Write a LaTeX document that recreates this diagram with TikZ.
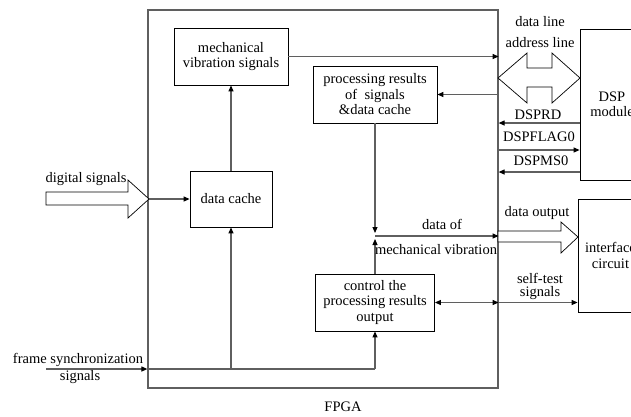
\documentclass[tikz,border=0pt]{standalone}
\usepackage{fontspec}
\setmainfont{Liberation Serif}
\usetikzlibrary{arrows.meta,calc}
\definecolor{lc}{RGB}{95,95,95}
\begin{document}
\begin{tikzpicture}[x=1pt,y=-1pt,
  font=\fontsize{14.5}{15.5}\selectfont,
  box/.style={draw=black,line width=0.8pt,fill=white,align=center,inner sep=0pt},
  ln/.style={draw=lc,line width=1.1pt},
  tip/.tip={Triangle[length=6pt,width=5pt,color=black]},
  arr/.style={ln,-tip},
  arrb/.style={ln,tip-tip},
  blk/.style={draw=black,line width=0.7pt,fill=white},
  lbl/.style={inner sep=0pt,align=center}]
\clip (0,0) rectangle (631,416);
\fill[white] (0,0) rectangle (631,416);

% FPGA frame
\node[draw=lc,line width=1.2pt,minimum width=350pt,minimum height=378pt,inner sep=0pt] (fpga) at (323,199) {};
\node[lbl] (fl) at (343,407) {FPGA};

% boxes
\node[box,minimum width=114pt,minimum height=57pt] (mech) at (231,56.5) {mechanical\\vibration signals};
\node[box,minimum width=124pt,minimum height=57pt] (proc) at (375,94.5) {processing results\\of\ \ signals\\\&data cache};
\node[box,minimum width=82pt,minimum height=56pt] (cache) at (231,199) {data cache};
\node[box,minimum width=119pt,minimum height=57pt] (ctrl) at (375,302.5) {control the\\processing results\\output};
\node[box,minimum width=64pt,minimum height=151pt] (dsp) at (612,104.5) {DSP\\module};
\node[box,minimum width=65pt,minimum height=113pt] (iface) at (610.5,255.5) {interface\\circuit};

% block arrows
\draw[blk] (46,192) -- (128,192) -- (128,180) -- (149,199) -- (128,218) -- (128,205) -- (46,205) -- cycle;
\node[lbl] (dsl) at (86,179) {digital signals};
\draw[blk] (498,78) -- (527,53) -- (527,68) -- (552,68) -- (552,53) -- (580,78) -- (552,103) -- (552,87) -- (527,87) -- (527,103) -- cycle;
\node[lbl] (dl) at (540,22) {data line};
\node[lbl] (al) at (540,43) {address line};
\draw[blk] (498,231) -- (561,231) -- (561,222) -- (578,237) -- (561,253) -- (561,242) -- (498,242) -- cycle;
\node[lbl] (dol) at (537,213) {data output};

% connectors inside FPGA
\coordinate (din) at (149,199);
\draw[arr] (din) -- (cache.west);
\draw[arr] (cache.north) -- (mech.south);
\draw[arr] (mech.east) -- (mech.east -| fpga.east);
\draw[arr] (fpga.east |- proc.east) -- (proc.east);

\coordinate (fs) at (46,369);
\coordinate (fsend) at (375,369);
\draw[arr] (fs) -- (fpga.west |- fs);
\draw[ln] (fpga.west |- fs) -- (fsend);
\draw[arr] (fsend) -- (ctrl.south);
\draw[arr] (cache.south |- fs) -- (cache.south);
\node[lbl] (fsl1) at (78,360) {frame synchronization};
\node[lbl] (fsl2) at (80,377) {signals};

\coordinate (j) at (375,236);
\draw[arr,shorten >=3pt] (proc.south) -- (j);
\draw[arr,shorten >=3pt] (ctrl.north) -- (j);
\draw[arr] (j) -- (fpga.east |- j);
\node[lbl] (dof) at (442,224) {data of};
\node[lbl] (mvl) at (436,250) {mechanical vibration};

\draw[arrb] (ctrl.east) -- (fpga.east |- ctrl.east);
\draw[arr] (fpga.east |- ctrl.east) -- (iface.west |- ctrl.east);
\node[lbl] (st1) at (540,278) {self-test};
\node[lbl] (st2) at (540,293) {signals};

% DSP lines
\draw[arr] (dsp.west |- 0,123) -- (fpga.east |- 0,123);
\node[lbl] (rd) at (538,115) {DSPRD};
\draw[arr] (fpga.east |- 0,150) -- (dsp.west |- 0,150);
\node[lbl] (fg) at (539,137) {DSPFLAG0};
\draw[arr] (dsp.west |- 0,172) -- (fpga.east |- 0,172);
\node[lbl] (ms) at (541,161) {DSPMS0};
\end{tikzpicture}
\end{document}
